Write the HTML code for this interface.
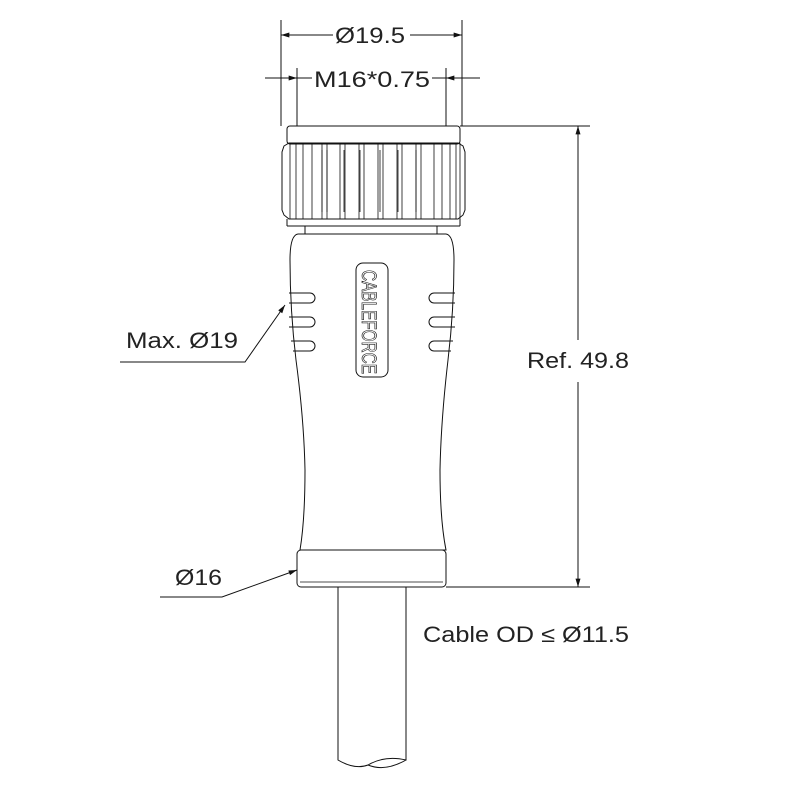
<!DOCTYPE html>
<html><head><style>body{margin:0;background:#fff}svg{display:block}.t{font-family:"Liberation Sans",sans-serif;fill:#222}</style></head>
<body>
<svg width="800" height="800" viewBox="0 0 800 800" xmlns="http://www.w3.org/2000/svg">
<defs>
<marker id="a" viewBox="0 0 10 6" refX="10" refY="3" markerWidth="14" markerHeight="5" markerUnits="userSpaceOnUse" orient="auto"><path d="M0,0 L10,3 L0,6 z" fill="#111"/></marker>
</defs>
<g stroke="#111" fill="none" stroke-width="1">
<line x1="281" y1="20" x2="281" y2="126"/><line x1="462" y1="20" x2="462" y2="126"/>
<line x1="297" y1="68" x2="297" y2="126"/><line x1="446" y1="68" x2="446" y2="126"/>
<line x1="333" y1="35" x2="281" y2="35" marker-end="url(#a)"/>
<line x1="410" y1="35" x2="462" y2="35" marker-end="url(#a)"/>
<line x1="265" y1="78" x2="297" y2="78" marker-end="url(#a)"/>
<line x1="480" y1="78" x2="446" y2="78" marker-end="url(#a)"/>
<line x1="297" y1="78" x2="312" y2="78"/><line x1="432" y1="78" x2="446" y2="78"/>
<line x1="460" y1="126" x2="590" y2="126"/><line x1="446" y1="587" x2="590" y2="587"/>
<line x1="578" y1="340" x2="578" y2="126" marker-end="url(#a)"/>
<line x1="578" y1="382" x2="578" y2="587" marker-end="url(#a)"/>
<rect x="287" y="126" width="173" height="18" rx="3"/>
<path d="M284,146 L289,143 L458,143 L463,146 L465,152 L465,210 L463,215 L458,219 L289,219 L284,215 L282,210 L282,152 Z"/>
<g stroke-width="0.8">
<path d="M290,143V219M296,143V219M303,143V219M312,143V219M322,143V219M327,143V219M340,143V219M345,143V219M359,143V219M364,143V219M378,143V219M383,143V219M397,143V219M402,143V219M416,143V219M421,143V219M434,143V219M442,143V219M450,143V219M456,143V219M460,143V219"/>
<path d="M322,150V212M327,150V212M344,150V212M360,150V212M380,150V212M398,150V212M416,150V212"/>
</g>
<line x1="287" y1="219" x2="287" y2="226"/><line x1="460" y1="219" x2="460" y2="226"/>
<line x1="287" y1="226" x2="460" y2="226"/>
<rect x="305" y="226" width="132" height="8"/>
<path d="M298,234 Q290,235 290,260 Q290,310 296,360 Q304,420 305,470 Q305,520 300,550 L446,550 Q440,520 440,470 Q441,420 448,360 Q454,310 454,260 Q454,235 446,234 Z"/>
<rect x="356" y="263" width="32" height="114" rx="7"/>
<path d="M289,293 H310 a5,5 0 0 1 0,10 H289"/>
<path d="M289,317 H310 a5,5 0 0 1 0,10 H289"/>
<path d="M291,341 H310 a5,5 0 0 1 0,10 H293"/>
<path d="M455,293 H434 a5,5 0 0 0 0,10 H455"/>
<path d="M455,317 H434 a5,5 0 0 0 0,10 H455"/>
<path d="M453,341 H434 a5,5 0 0 0 0,10 H451"/>
<rect x="297" y="550" width="149" height="37" rx="4"/>
<line x1="300" y1="582" x2="443" y2="582" stroke-width="0.7"/>
<path d="M338,587 V760 Q355,770 368,765 Q385,755 406,760 V587"/>
<path d="M368,765 Q385,772 406,760"/>
<polyline points="120,362 245,362 285,305" marker-end="url(#a)"/>
<polyline points="160,597 222,597 297,570" marker-end="url(#a)"/>
</g>
<text x="362" y="270" transform="rotate(90 362 270)" font-size="21" style="fill:none;stroke:#222;stroke-width:0.7;font-family:'Liberation Sans Narrow','Liberation Sans',sans-serif" textLength="104" lengthAdjust="spacingAndGlyphs">CABLEFORCE</text>
<g font-size="22" class="t">
<text class="t" x="335" y="43" textLength="70" lengthAdjust="spacingAndGlyphs">Ø19.5</text>
<text class="t" x="314" y="87" textLength="116" lengthAdjust="spacingAndGlyphs">M16*0.75</text>
<text class="t" x="527" y="368" textLength="102" lengthAdjust="spacingAndGlyphs">Ref. 49.8</text>
<text class="t" x="126" y="348" textLength="112" lengthAdjust="spacingAndGlyphs">Max. Ø19</text>
<text class="t" x="175" y="585" textLength="47" lengthAdjust="spacingAndGlyphs">Ø16</text>
<text class="t" x="423" y="642" textLength="206" lengthAdjust="spacingAndGlyphs">Cable OD ≤ Ø11.5</text>
</g>
</svg>
</body></html>
